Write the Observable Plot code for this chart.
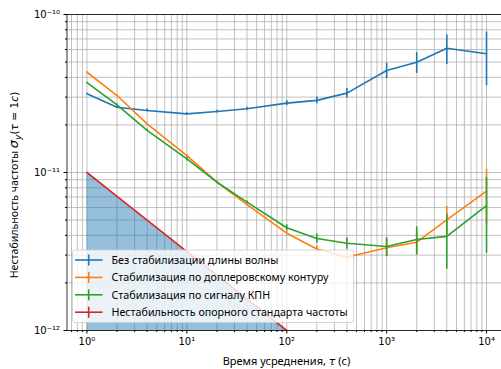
<!DOCTYPE html>
<html>
<head>
<meta charset="utf-8">
<script src="https://cdn.jsdelivr.net/npm/d3@7"></script>
<script src="https://cdn.jsdelivr.net/npm/@observablehq/plot@0.6"></script>
<style>
  html, body { margin: 0; padding: 0; background: #fff; }
  #chart { width: 501px; height: 369px; overflow: hidden; }
</style>
</head>
<body>
<div id="chart"></div>
<script>
// Averaging times, s
const tau = [1, 2, 4, 10, 20, 40, 100, 200, 400, 1000, 2000, 4000, 10000];

// Allan deviation without wavelength stabilisation
const free = [3.15e-11, 2.59e-11, 2.47e-11, 2.35e-11, 2.43e-11, 2.53e-11, 2.75e-11, 2.86e-11, 3.18e-11, 4.42e-11, 4.99e-11, 6.12e-11, 5.64e-11];
const freeErr = [0.02e-11, 0.05e-11, 0.05e-11, 0.04e-11, 0.05e-11, 0.06e-11, 0.1e-11, 0.14e-11, 0.22e-11, 0.5e-11, 0.75e-11, 1.3e-11, 2.1e-11];

// Stabilisation to the Doppler profile
const doppler = [4.31e-11, 3.07e-11, 2.03e-11, 1.28e-11, 8.68e-12, 6.27e-12, 4.13e-12, 3.28e-12, 2.91e-12, 3.34e-12, 3.62e-12, 5.02e-12, 7.62e-12];
const dopplerErr = [2e-13, 3e-13, 3e-13, 2e-13, 1e-13, 1e-13, 1e-13, 1.5e-13, 2e-13, 4e-13, 6e-13, 1.07e-12, 2.9e-12];

// Stabilisation to the CPT signal
const cpt = [3.71e-11, 2.68e-11, 1.85e-11, 1.22e-11, 8.68e-12, 6.49e-12, 4.47e-12, 3.82e-12, 3.57e-12, 3.40e-12, 3.77e-12, 3.94e-12, 6.18e-12];
const cptErr = [2e-13, 3e-13, 3e-13, 3.5e-13, 1.5e-13, 1.2e-13, 2e-13, 2.6e-13, 3e-13, 4.7e-13, 7.6e-13, 1.5e-12, 3.1e-12];

// Reference frequency standard instability
const refTau = [1, 2, 4, 10, 20, 40, 100];
const refInstab = [1e-11, 7.07e-12, 5e-12, 3.16e-12, 2.24e-12, 1.58e-12, 1e-12];
const refFloor = 1e-12;

// Axis ticks
const xMajor = [1, 10, 100, 1000, 10000];
const xMinor = [0.7, 0.8, 0.9, 2, 3, 4, 5, 6, 7, 8, 9, 20, 30, 40, 50, 60, 70, 80, 90,
  200, 300, 400, 500, 600, 700, 800, 900, 2000, 3000, 4000, 5000, 6000, 7000, 8000, 9000];
const yMajor = [1e-12, 1e-11, 1e-10];
const yMinor = [2e-12, 3e-12, 4e-12, 5e-12, 6e-12, 7e-12, 8e-12, 9e-12,
  2e-11, 3e-11, 4e-11, 5e-11, 6e-11, 7e-11, 8e-11, 9e-11];

const seriesNames = [
  "Без стабилизации длины волны",
  "Стабилизация по доплеровскому контуру",
  "Стабилизация по сигналу КПН",
  "Нестабильность опорного стандарта частоты"
];
const seriesColors = ["#1f77b4", "#ff7f0e", "#2ca02c", "#d62728"];

const rows = (vals, errs) => tau.map((t, i) => ({t, v: vals[i], e: errs[i]}));
const freeRows = rows(free, freeErr);
const dopplerRows = rows(doppler, dopplerErr);
const cptRows = rows(cpt, cptErr);
const refRows = refTau.map((t, i) => ({t, v: refInstab[i]}));

const sup = {"-": "\u207b", "0": "\u2070", "1": "\u00b9", "2": "\u00b2", "3": "\u00b3", "4": "\u2074",
  "5": "\u2075", "6": "\u2076", "7": "\u2077", "8": "\u2078", "9": "\u2079"};
const pow10 = d => "10" + String(Math.round(Math.log10(d))).split("").map(c => sup[c]).join("");

function series(data, color) {
  return [
    Plot.line(data, {x: "t", y: "v", stroke: color, strokeWidth: 1.6}),
    Plot.ruleX(data, {x: "t", y1: d => d.v - d.e, y2: d => d.v + d.e, stroke: color, strokeWidth: 1.6})
  ];
}

const gridStyle = {stroke: "#b0b0b0", strokeOpacity: 1, strokeWidth: 0.8};

const chart = Plot.plot({
  width: 501,
  height: 369,
  marginTop: 14,
  marginBottom: 39,
  marginLeft: 67,
  marginRight: 0,
  style: {background: "#fff", fontFamily: "DejaVu Sans", fontSize: "10px", color: "#000"},
  x: {type: "log", domain: [10 ** -0.2, 10 ** 4.2], range: [66.5, 506]},
  y: {type: "log", domain: [1e-12, 1e-10], range: [330, 14]},
  marks: [
    Plot.gridX(xMinor, gridStyle),
    Plot.gridX(xMajor, gridStyle),
    Plot.gridY(yMinor, gridStyle),
    Plot.gridY(yMajor, gridStyle),
    Plot.areaY(refRows, {x: "t", y1: () => refFloor, y2: "v", fill: "#1f77b4", fillOpacity: 0.47}),
    ...series(freeRows, seriesColors[0]),
    ...series(dopplerRows, seriesColors[1]),
    ...series(cptRows, seriesColors[2]),
    Plot.line(refRows, {x: "t", y: "v", stroke: seriesColors[3], strokeWidth: 1.6}),
    Plot.ruleY([1e-12, 1e-10], {stroke: "#000", strokeWidth: 0.8}),
    Plot.ruleX([10 ** -0.2], {stroke: "#000", strokeWidth: 0.8}),
    Plot.axisX(xMinor, {tickSize: 2, tickFormat: () => "", label: null}),
    Plot.axisX(xMajor, {tickSize: 3.5, tickPadding: 4, tickFormat: pow10, label: null, fontSize: 10}),
    Plot.axisY(yMinor, {tickSize: 2, tickFormat: () => "", label: null}),
    Plot.axisY(yMajor, {tickSize: 3.5, tickPadding: 4, tickFormat: pow10, label: null, fontSize: 10})
  ]
});

document.getElementById("chart").appendChild(chart);

// Axis titles and legend drawn into the same SVG
const svg = d3.select(chart);
const textFont = "'Noto Sans', sans-serif";

const xt = svg.append("text")
  .attr("x", 286.5).attr("y", 364.5)
  .attr("text-anchor", "middle")
  .style("font-family", textFont).style("font-size", "11px").attr("fill", "#000");
xt.append("tspan").text("Время усреднения, ");
xt.append("tspan").attr("font-style", "italic").attr("font-family", "DejaVu Sans").text("τ");
xt.append("tspan").text(" (с)");

const yt = svg.append("text")
  .attr("transform", "translate(18,185) rotate(-90)")
  .attr("text-anchor", "middle")
  .style("font-family", textFont).style("font-size", "10.6px").attr("fill", "#000");
yt.append("tspan").text("Нестабильность частоты ");
yt.append("tspan").attr("font-style", "italic").attr("font-family", "DejaVu Sans").attr("font-size", "13px").text("σ");
yt.append("tspan").attr("font-style", "italic").attr("font-family", "DejaVu Sans").attr("font-size", "9px").attr("dy", 3).text("y");
yt.append("tspan").attr("dy", -3).attr("font-family", "DejaVu Sans").text("(");
yt.append("tspan").attr("font-style", "italic").attr("font-family", "DejaVu Sans").text("τ");
yt.append("tspan").attr("font-family", "DejaVu Sans").text(" = 1");
yt.append("tspan").attr("font-style", "italic").attr("font-family", "DejaVu Sans").text("c");
yt.append("tspan").attr("font-family", "DejaVu Sans").text(")");

const lg = svg.append("g");
lg.append("rect")
  .attr("x", 72.5).attr("y", 250).attr("width", 281).attr("height", 72.5)
  .attr("rx", 2.5).attr("fill", "#fff").attr("fill-opacity", 0.8)
  .attr("stroke", "#cccccc").attr("stroke-width", 0.8);
seriesNames.forEach((name, i) => {
  const cy = 260 + i * 17.4;
  lg.append("line").attr("x1", 75).attr("x2", 102.5).attr("y1", cy).attr("y2", cy)
    .attr("stroke", seriesColors[i]).attr("stroke-width", 1.6);
  lg.append("line").attr("x1", 88.7).attr("x2", 88.7).attr("y1", cy - 5.5).attr("y2", cy + 5.5)
    .attr("stroke", seriesColors[i]).attr("stroke-width", 1.6);
  lg.append("text").attr("x", 111.5).attr("y", cy).attr("dy", "0.35em")
    .attr("text-anchor", "start")
    .style("font-family", textFont).style("font-size", "10.7px").attr("fill", "#000")
    .text(name);
});
</script>
</body>
</html>
